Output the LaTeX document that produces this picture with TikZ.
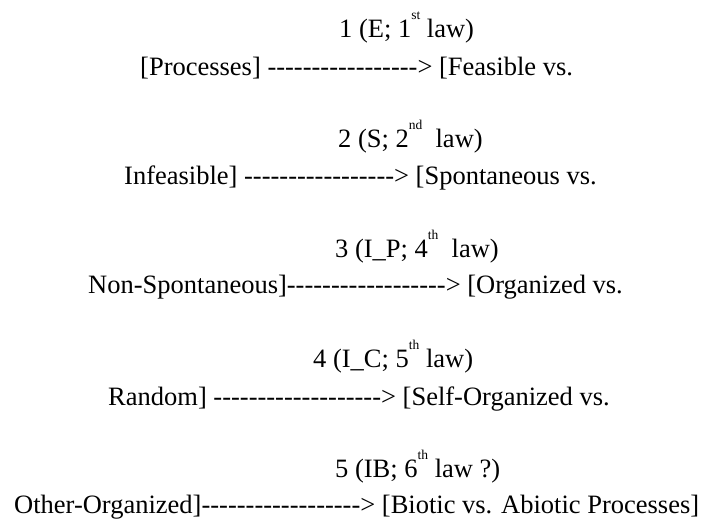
\documentclass[tikz,border=0pt]{standalone}
\usepackage{fontspec}
\setmainfont{Liberation Serif}[Ligatures=TeXOff]
\usepackage{tikz}
\newcommand{\ordsup}[1]{\raisebox{18pt}{\fontsize{13.5}{13.5}\selectfont #1}}

\begin{document}
\begin{tikzpicture}[
    x=1pt, y=-1pt,
    lawlabel/.style={anchor=base west, inner sep=0pt, font=\fontsize{26.5}{30}\selectfont},
    flowline/.style={anchor=base west, inner sep=0pt, font=\fontsize{26.5}{30}\selectfont}
]
\useasboundingbox (0,0) rectangle (707,520);

\node[lawlabel] (law1) at (339,37) {1 (E; 1\ordsup{st} law)};
\node[flowline] (row1) at (140,75) {[Processes] -----------------> [Feasible vs.};

\node[lawlabel] (law2) at (338,147) {2 (S; 2\ordsup{nd} \ law)};
\node[flowline] (row2) at (124,184) {Infeasible] -----------------> [Spontaneous vs.};

\node[lawlabel] (law3) at (335,257) {3 (I\_P; 4\ordsup{th} \ law)};
\node[flowline] (row3) at (88,293) {Non-Spontaneous]------------------> [Organized vs.};

\node[lawlabel] (law4) at (313,367) {4 (I\_C; 5\ordsup{th} law)};
\node[flowline] (row4) at (108,405) {Random] -------------------> [Self-Organized vs.};

\node[lawlabel] (law5) at (335,477) {5 (IB; 6\ordsup{th} law ?)};
\node[flowline] (row5) at (14,513) {Other-Organized]------------------> [Biotic vs. Abiotic Processes]};

\end{tikzpicture}
\end{document}
